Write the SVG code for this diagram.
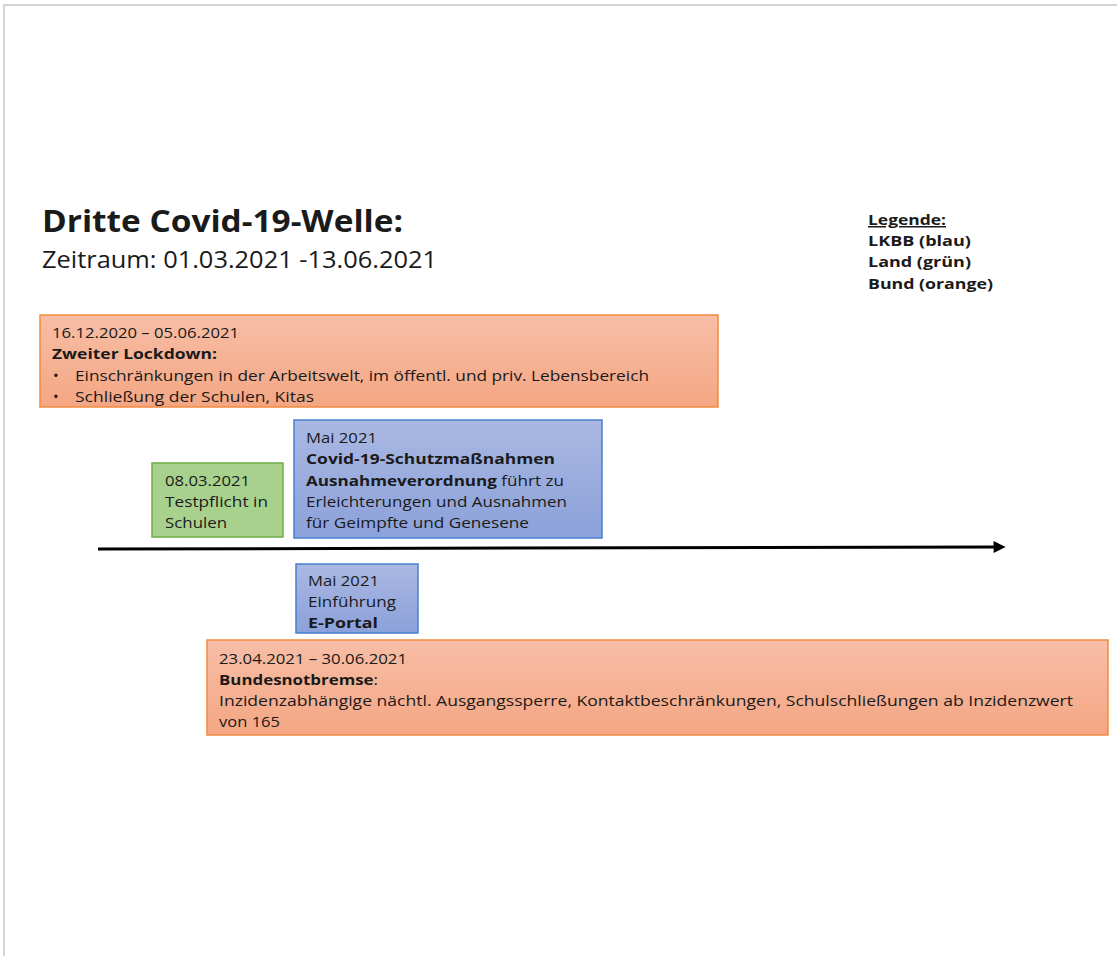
<svg xmlns="http://www.w3.org/2000/svg" width="1117" height="956" viewBox="0 0 1117 956">
  <defs>
    <linearGradient id="gOrange" x1="0" y1="0" x2="0" y2="1">
      <stop offset="0" stop-color="#f7bea6"/>
      <stop offset="1" stop-color="#f4a683"/>
    </linearGradient>
    <linearGradient id="gBlue" x1="0" y1="0" x2="0" y2="1">
      <stop offset="0" stop-color="#aab8e2"/>
      <stop offset="1" stop-color="#8ba1da"/>
    </linearGradient>
    <marker id="arrowHead" viewBox="0 0 10 10" refX="2" refY="5" markerWidth="4.5" markerHeight="4" orient="auto" markerUnits="strokeWidth">
      <path d="M0,0 L10,5 L0,10 Z" fill="#000"/>
    </marker>
    <style>
      text { font-family: "Open Sans", "Lato", sans-serif; fill: #1a1a1a; }
      .t { font-size: 15px; }
      .b { font-weight: 700; }
      .orange { fill: url(#gOrange); stroke: #f28a3e; stroke-width: 1.5; }
      .blue { fill: url(#gBlue); stroke: #4a7fd2; stroke-width: 1.5; }
      .green { fill: #a9d18e; stroke: #6fae46; stroke-width: 1.5; }
    </style>
  </defs>

  <rect width="1117" height="956" fill="#fff"/>
  <!-- page edge -->
  <path d="M4,956 V5 H1117" fill="none" stroke="#d4d4d4" stroke-width="2"/>

  <!-- heading -->
  <g id="title">
    <text x="42" y="232" font-size="30" class="b" textLength="361" lengthAdjust="spacingAndGlyphs">Dritte Covid-19-Welle:</text>
    <text x="42" y="268" font-size="23" textLength="395" lengthAdjust="spacingAndGlyphs">Zeitraum: 01.03.2021 -13.06.2021</text>
  </g>

  <!-- legend -->
  <g id="legend">
    <text x="868" y="225" class="b t" text-decoration="underline" textLength="78" lengthAdjust="spacingAndGlyphs">Legende:</text>
    <text x="868" y="246" class="b t" textLength="103" lengthAdjust="spacingAndGlyphs">LKBB (blau)</text>
    <text x="868" y="267" class="b t" textLength="103" lengthAdjust="spacingAndGlyphs">Land (grün)</text>
    <text x="868" y="289" class="b t" textLength="125" lengthAdjust="spacingAndGlyphs">Bund (orange)</text>
  </g>

  <!-- timeline -->
  <g id="connectors">
    <line x1="98" y1="549" x2="996" y2="547" stroke="#000" stroke-width="3" marker-end="url(#arrowHead)"/>
  </g>

  <g id="lockdown2">
    <rect class="orange" x="40" y="315" width="678" height="92"/>
    <text x="52" y="338" class="t" textLength="187" lengthAdjust="spacingAndGlyphs">16.12.2020 – 05.06.2021</text>
    <text x="52" y="359" class="t b" textLength="165" lengthAdjust="spacingAndGlyphs">Zweiter Lockdown:</text>
    <text x="53" y="381" class="t">•</text>
    <text x="75" y="381" class="t" textLength="574" lengthAdjust="spacingAndGlyphs">Einschränkungen in der Arbeitswelt, im öffentl. und priv. Lebensbereich</text>
    <text x="53" y="402" class="t">•</text>
    <text x="75" y="402" class="t" textLength="239" lengthAdjust="spacingAndGlyphs">Schließung der Schulen, Kitas</text>
  </g>

  <g id="testpflicht">
    <rect class="green" x="152" y="463" width="131" height="74"/>
    <text x="165" y="486" class="t" textLength="85" lengthAdjust="spacingAndGlyphs">08.03.2021</text>
    <text x="165" y="507" class="t" textLength="103" lengthAdjust="spacingAndGlyphs">Testpflicht in</text>
    <text x="165" y="528" class="t" textLength="62" lengthAdjust="spacingAndGlyphs">Schulen</text>
  </g>

  <g id="ausnahmeverordnung">
    <rect class="blue" x="294" y="420" width="308" height="118"/>
    <text x="306" y="443" class="t" textLength="71" lengthAdjust="spacingAndGlyphs">Mai 2021</text>
    <text x="306" y="464" class="t b" textLength="249" lengthAdjust="spacingAndGlyphs">Covid-19-Schutzmaßnahmen</text>
    <text x="306" y="486" class="t" textLength="258" lengthAdjust="spacingAndGlyphs"><tspan class="b">Ausnahmeverordnung</tspan> führt zu</text>
    <text x="306" y="507" class="t" textLength="261" lengthAdjust="spacingAndGlyphs">Erleichterungen und Ausnahmen</text>
    <text x="306" y="528" class="t" textLength="223" lengthAdjust="spacingAndGlyphs">für Geimpfte und Genesene</text>
  </g>

  <g id="eportal">
    <rect class="blue" x="296" y="564" width="122" height="69"/>
    <text x="308" y="586" class="t" textLength="71" lengthAdjust="spacingAndGlyphs">Mai 2021</text>
    <text x="308" y="607" class="t" textLength="88" lengthAdjust="spacingAndGlyphs">Einführung</text>
    <text x="308" y="628" class="t b" textLength="70" lengthAdjust="spacingAndGlyphs">E-Portal</text>
  </g>

  <g id="bundesnotbremse">
    <rect class="orange" x="207" y="640" width="901" height="95"/>
    <text x="219" y="664" class="t" textLength="188" lengthAdjust="spacingAndGlyphs">23.04.2021 – 30.06.2021</text>
    <text x="219" y="685" class="t" textLength="159" lengthAdjust="spacingAndGlyphs"><tspan class="b">Bundesnotbremse</tspan>:</text>
    <text x="219" y="706" class="t" textLength="854" lengthAdjust="spacingAndGlyphs">Inzidenzabhängige nächtl. Ausgangssperre, Kontaktbeschränkungen, Schulschließungen ab Inzidenzwert</text>
    <text x="219" y="727" class="t" textLength="61" lengthAdjust="spacingAndGlyphs">von 165</text>
  </g>
</svg>
